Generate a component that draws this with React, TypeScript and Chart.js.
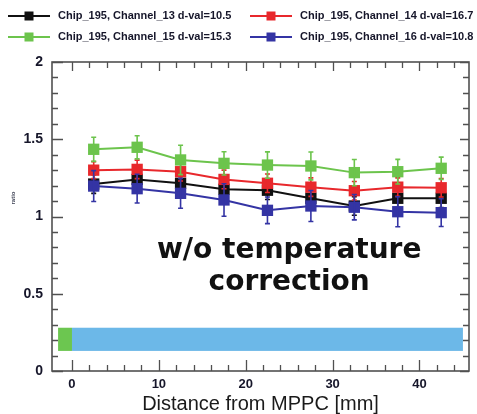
import { useEffect, useRef } from 'react';
import { Chart, registerables } from 'chart.js';

Chart.register(...registerables);

// Distance of each measurement point from the MPPC [mm]
const distances = [2.5, 7.5, 12.5, 17.5, 22.5, 27.5, 32.5, 37.5, 42.5];

// Relative response of each channel, with its uncertainty
const ch13Values = [1.21, 1.24, 1.215, 1.176, 1.17, 1.118, 1.068, 1.118, 1.118];
const ch13Errors = [0.06, 0.06, 0.06, 0.06, 0.06, 0.06, 0.06, 0.06, 0.06];
const ch14Values = [1.3, 1.305, 1.29, 1.24, 1.215, 1.19, 1.167, 1.19, 1.186];
const ch14Errors = [0.055, 0.06, 0.06, 0.06, 0.06, 0.06, 0.06, 0.06, 0.06];
const ch15Values = [1.435, 1.448, 1.366, 1.344, 1.333, 1.327, 1.284, 1.29, 1.312];
const ch15Errors = [0.078, 0.075, 0.095, 0.075, 0.085, 0.09, 0.085, 0.08, 0.072];
const ch16Values = [1.197, 1.18, 1.15, 1.107, 1.04, 1.068, 1.06, 1.031, 1.025];
const ch16Errors = [0.1, 0.093, 0.097, 0.105, 0.086, 0.1, 0.082, 0.097, 0.09];

const seriesLabels = [
  'Chip_195, Channel_13 d-val=10.5',
  'Chip_195, Channel_14 d-val=16.7',
  'Chip_195, Channel_15 d-val=15.3',
  'Chip_195, Channel_16 d-val=10.8',
];
const seriesValues = [ch13Values, ch14Values, ch15Values, ch16Values];
const seriesErrors = [ch13Errors, ch14Errors, ch15Errors, ch16Errors];
const seriesColors = ['#111111', '#e8282c', '#6cc44c', '#3434a4'];
// later channels are drawn on top
const seriesOrder = [3, 2, 1, 0];

// Axis ticks
const xTicks = [0, 10, 20, 30, 40];
const xTickLabels = ['0', '10', '20', '30', '40'];
const yTicks = [0, 0.5, 1, 1.5, 2];
const yTickLabels = ['0', '0.5', '1', '1.5', '2'];
const xRange = [-2.3, 45.7];
const yRange = [0, 2];

// Detector layout strip along the bottom: start/end in mm
const stripStart = [-1.6, 0];
const stripEnd = [0, 45];
const stripLow = 0.13;
const stripHigh = 0.28;
const stripColors = ['#6cc650', '#6cb8e8'];

// Caption inside the plot (data coordinates of centre / baselines)
const captionLines = ['w/o temperature', 'correction'];
const captionX = 25;
const captionBaselines = [0.731, 0.524];

const yAxisTitle = 'ratio';
const xAxisTitle = 'Distance from MPPC [mm]';

const FRAME = '#505050';
const TEXT = '#16162a';

const stripPlugin = {
  id: 'strip',
  beforeDatasetsDraw(chart: any) {
    const { ctx, scales } = chart;
    const x = scales.x;
    const y = scales.y;
    ctx.save();
    stripStart.forEach((s, i) => {
      const x0 = x.getPixelForValue(s);
      const x1 = x.getPixelForValue(stripEnd[i]);
      const y0 = y.getPixelForValue(stripHigh);
      const y1 = y.getPixelForValue(stripLow);
      ctx.fillStyle = stripColors[i];
      ctx.fillRect(x0, y0, x1 - x0, y1 - y0);
    });
    ctx.restore();
  },
};

const errorBarPlugin = {
  id: 'errorBars',
  afterDatasetDraw(chart: any, args: any) {
    const i = args.index;
    const errs = seriesErrors[i];
    const vals = seriesValues[i];
    const { ctx, scales } = chart;
    ctx.save();
    ctx.strokeStyle = seriesColors[i];
    ctx.lineWidth = 1.6;
    distances.forEach((d, k) => {
      const px = scales.x.getPixelForValue(d);
      const top = scales.y.getPixelForValue(vals[k] + errs[k]);
      const bot = scales.y.getPixelForValue(vals[k] - errs[k]);
      ctx.beginPath();
      ctx.moveTo(px, top);
      ctx.lineTo(px, bot);
      ctx.moveTo(px - 2.5, top);
      ctx.lineTo(px + 2.5, top);
      ctx.moveTo(px - 2.5, bot);
      ctx.lineTo(px + 2.5, bot);
      ctx.stroke();
    });
    ctx.restore();
  },
};

const decorPlugin = {
  id: 'decor',
  afterDraw(chart: any) {
    const { ctx, chartArea: a, scales } = chart;
    const x = scales.x;
    const y = scales.y;
    ctx.save();

    // caption
    ctx.fillStyle = '#111';
    ctx.font = 'bold 28px "DejaVu Sans"';
    ctx.textAlign = 'center';
    ctx.textBaseline = 'alphabetic';
    captionLines.forEach((line, i) => {
      ctx.fillText(line, x.getPixelForValue(captionX), y.getPixelForValue(captionBaselines[i]));
    });

    // frame
    ctx.strokeStyle = FRAME;
    ctx.lineWidth = 1.6;
    ctx.strokeRect(a.left, a.top, a.right - a.left, a.bottom - a.top);

    // inward tick marks
    ctx.lineWidth = 1.3;
    ctx.beginPath();
    for (let v = 0; v <= xRange[1]; v += 2) {
      const px = Math.round(x.getPixelForValue(v)) + 0.5;
      const major = v % 10 === 0;
      const len = major ? 11 : 6;
      ctx.moveTo(px, a.bottom);
      ctx.lineTo(px, a.bottom - len);
      ctx.moveTo(px, a.top);
      ctx.lineTo(px, a.top + (major ? 9 : 6));
    }
    for (let k = 0; k <= 20; k++) {
      const v = k / 10;
      const py = Math.round(y.getPixelForValue(v)) + 0.5;
      const major = k % 5 === 0;
      ctx.moveTo(a.left, py);
      ctx.lineTo(a.left + (major ? 11 : 6), py);
      ctx.moveTo(a.right, py);
      ctx.lineTo(a.right - (major ? 9 : 6), py);
    }
    ctx.stroke();

    // small y-axis title
    ctx.save();
    ctx.translate(13, 198);
    ctx.rotate(-Math.PI / 2);
    ctx.fillStyle = '#44485a';
    ctx.font = 'bold 6px "Liberation Sans"';
    ctx.textAlign = 'center';
    ctx.textBaseline = 'middle';
    ctx.fillText(yAxisTitle, 0, 0);
    ctx.restore();

    // legend: two columns, two rows
    const colX = [8, 250];
    const rowY = [16, 37];
    ctx.font = 'bold 11px "Liberation Sans"';
    ctx.textAlign = 'left';
    ctx.textBaseline = 'middle';
    seriesLabels.forEach((label, i) => {
      const cx = colX[i % 2];
      const cy = rowY[Math.floor(i / 2)];
      ctx.strokeStyle = seriesColors[i];
      ctx.lineWidth = 1.8;
      ctx.beginPath();
      ctx.moveTo(cx, cy);
      ctx.lineTo(cx + 42, cy);
      ctx.stroke();
      ctx.fillStyle = seriesColors[i];
      ctx.fillRect(cx + 21 - 4.5, cy - 4.5, 9, 9);
      ctx.fillStyle = TEXT;
      ctx.fillText(label, cx + 50, cy);
    });

    ctx.restore();
  },
};

export default function App() {
  const canvasRef = useRef<HTMLCanvasElement | null>(null);

  useEffect(() => {
    if (!canvasRef.current) return;
    const chart = new Chart(canvasRef.current, {
      type: 'line',
      data: {
        datasets: seriesLabels.map((label, i) => ({
          label,
          data: distances.map((d, k) => ({ x: d, y: seriesValues[i][k] })),
          borderColor: seriesColors[i],
          backgroundColor: seriesColors[i],
          borderWidth: 2,
          pointStyle: 'rect',
          pointRadius: 8,
          pointBorderWidth: 0,
          order: seriesOrder[i],
          tension: 0,
        })),
      },
      options: {
        animation: false,
        responsive: false,
        devicePixelRatio: 1,
        layout: { padding: { top: 62, right: 3, left: 0, bottom: 0 } },
        plugins: {
          legend: { display: false },
          tooltip: { enabled: false },
        },
        scales: {
          x: {
            type: 'linear',
            min: xRange[0],
            max: xRange[1],
            grid: { display: false, drawTicks: false },
            border: { display: false },
            afterBuildTicks: (scale: any) => {
              scale.ticks = xTicks.map((v) => ({ value: v }));
            },
            afterFit: (scale: any) => {
              scale.height = 43;
            },
            ticks: {
              padding: 6,
              color: TEXT,
              font: { family: '"Liberation Sans"', size: 13, weight: 'bold' },
              maxRotation: 0,
              autoSkip: false,
              callback: (v: any) => xTickLabels[xTicks.indexOf(Number(v))],
            },
            title: {
              display: true,
              text: xAxisTitle,
              color: '#1a1a1a',
              font: { family: '"Liberation Sans"', size: 20, lineHeight: 1 },
              padding: { top: 0, bottom: 0 },
            },
          },
          y: {
            type: 'linear',
            min: yRange[0],
            max: yRange[1],
            grid: { display: false, drawTicks: false },
            border: { display: false },
            afterBuildTicks: (scale: any) => {
              scale.ticks = yTicks.map((v) => ({ value: v }));
            },
            afterFit: (scale: any) => {
              scale.width = 52;
            },
            ticks: {
              padding: 9,
              color: TEXT,
              font: { family: '"Liberation Sans"', size: 14, weight: 'bold' },
              autoSkip: false,
              callback: (v: any) => yTickLabels[yTicks.indexOf(Number(v))],
            },
          },
        },
      },
      plugins: [stripPlugin, errorBarPlugin, decorPlugin],
    } as any);
    return () => chart.destroy();
  }, []);

  return (
    <div style={{ position: 'absolute', left: 0, top: 0, width: 477, height: 414, background: '#fff' }}>
      <canvas ref={canvasRef} width={477} height={414} />
    </div>
  );
}
